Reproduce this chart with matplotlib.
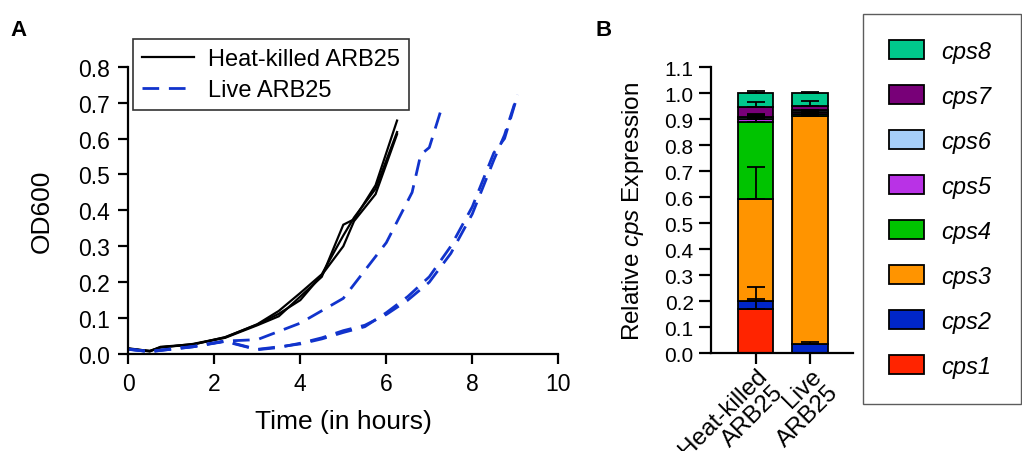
import matplotlib
matplotlib.use("Agg")
import matplotlib.pyplot as plt
import numpy as np
from matplotlib.patches import Patch
from matplotlib.lines import Line2D
from matplotlib.transforms import ScaledTranslation

plt.rcParams['font.family'] = ['Liberation Sans', 'DejaVu Sans']
plt.rcParams['mathtext.fontset'] = 'custom'
plt.rcParams['mathtext.rm'] = 'Liberation Sans'
plt.rcParams['mathtext.it'] = 'Liberation Sans:italic'

# ---------------- Panel A data ----------------
t_hk = [0, 0.5, 0.75, 1.5, 2.25, 3.0, 3.5, 4.0, 4.5, 5.0, 5.25, 5.75, 6.25]
hk1 = [0.016, 0.008, 0.020, 0.027, 0.045, 0.080, 0.105, 0.160, 0.215, 0.360, 0.375, 0.470, 0.650]
hk2 = [0.015, 0.007, 0.019, 0.026, 0.047, 0.082, 0.112, 0.150, 0.220, 0.300, 0.370, 0.445, 0.612]
hk3 = [0.014, 0.009, 0.018, 0.028, 0.046, 0.083, 0.120, 0.170, 0.222, 0.330, 0.380, 0.460, 0.618]

t_live_fast = [0, 0.5, 0.75, 1.5, 2.25, 3.0, 4.0, 5.0, 6.0, 6.6, 6.8, 7.0, 7.3]
live_fast = [0.013, 0.007, 0.010, 0.020, 0.036, 0.040, 0.086, 0.155, 0.310, 0.450, 0.555, 0.575, 0.690]

t_live_slow = [0, 0.5, 0.75, 1.5, 2.25, 3.0, 3.5, 4.0, 4.5, 5.0, 5.5, 6.0, 6.5, 7.0, 7.5, 8.0, 8.5, 8.75, 9.05]
live_slow1 = [0.014, 0.006, 0.010, 0.020, 0.035, 0.012, 0.018, 0.030, 0.045, 0.065, 0.080, 0.110, 0.150, 0.200, 0.280, 0.390, 0.540, 0.610, 0.722]
live_slow2 = [0.013, 0.007, 0.011, 0.021, 0.036, 0.013, 0.020, 0.028, 0.042, 0.060, 0.076, 0.115, 0.160, 0.215, 0.300, 0.410, 0.560, 0.600, 0.720]

# ---------------- Panel B data ----------------
groups = ["Heat-killed\nARB25", "Live\nARB25"]
genes = ["cps1", "cps2", "cps3", "cps4", "cps5", "cps6", "cps7", "cps8"]
colors = ["#ff2400", "#0026c8", "#ff9400", "#00c300", "#b932e6", "#a6cef8", "#780078", "#00c88c"]
vals_hk = [0.170, 0.030, 0.395, 0.295, 0.012, 0.008, 0.037, 0.053]
vals_live = [0.002, 0.035, 0.875, 0.008, 0.008, 0.006, 0.018, 0.048]
err_hk = [0.040, 0.055, 0.122, 0.030, 0.010, 0.005, 0.020, 0.007]
err_live = [0.000, 0.005, 0.008, 0.005, 0.004, 0.003, 0.020, 0.006]

W, H = 1022, 452
fig = plt.figure(figsize=(W/100, H/100), dpi=100)

def fx(px):
    return px / W
def fy(py):
    return 1 - py / H

# ---------------- Panel A ----------------
axA = fig.add_axes([fx(128.3), fy(355), fx(558.3) - fx(128.3), fy(67.7) - fy(355)])
black_kw = dict(color='black', lw=1.6, solid_joinstyle='miter')
blue_kw = dict(color='#1133cc', lw=2.0, dashes=(6, 3.5))
for y in (hk1, hk2, hk3):
    axA.plot(t_hk, y, **black_kw)
axA.plot(t_live_fast, live_fast, **blue_kw)
axA.plot(t_live_slow, live_slow1, **blue_kw)
axA.plot(t_live_slow, live_slow2, **blue_kw)
axA.set_xlim(0, 10)
axA.set_ylim(0, 0.8)
axA.set_xticks(np.arange(0, 11, 2))
axA.set_yticks(np.arange(0, 0.81, 0.1))
axA.set_yticklabels([f"{v:.1f}" for v in np.arange(0, 0.81, 0.1)])
for s in ('top', 'right'):
    axA.spines[s].set_visible(False)
for s in ('left', 'bottom'):
    axA.spines[s].set_linewidth(1.6)
axA.tick_params(axis='both', direction='out', length=7, width=1.6, labelsize=16.5, pad=6)
axA.set_xlabel("Time (in hours)", fontsize=19, labelpad=10)
axA.set_ylabel("OD600", fontsize=19, labelpad=18)
handlesA = [Line2D([], [], **black_kw), Line2D([], [], **blue_kw)]
legA = fig.legend(handlesA, ["Heat-killed ARB25", "Live ARB25"], loc='upper left',
                  bbox_to_anchor=(fx(133.3), fy(40)), bbox_transform=fig.transFigure,
                  fontsize=17, frameon=True, fancybox=False, borderaxespad=0,
                  handlelength=2.2, handletextpad=0.6, borderpad=0.38, labelspacing=0.4)
legA.get_frame().set_edgecolor('black')
legA.get_frame().set_linewidth(1.2)

# ---------------- Panel B ----------------
axB = fig.add_axes([fx(711), fy(354.3), fx(853.3) - fx(711), fy(68.3) - fy(354.3)])
x = np.arange(len(groups))
bw = 0.645
bottoms = np.zeros(len(groups))
tops_list = []
for i, g in enumerate(genes):
    v = np.array([vals_hk[i], vals_live[i]])
    axB.bar(x, v, bw, bottom=bottoms, color=colors[i], edgecolor='black', linewidth=1.3, zorder=2)
    bottoms = bottoms + v
    tops_list.append(bottoms.copy())
for i, g in enumerate(genes):
    e = np.array([err_hk[i], err_live[i]])
    axB.errorbar(x, tops_list[i], yerr=[np.zeros_like(e), e], fmt='none', ecolor='black',
                 elinewidth=1.3, capsize=6.5, capthick=1.3, zorder=3)
axB.set_xlim(-0.823, 1.797)
axB.set_ylim(0, 1.1)
yt = np.round(np.arange(0, 1.101, 0.1), 1)
axB.set_yticks(yt)
axB.set_yticklabels([f"{v:.1f}" for v in yt])
axB.set_xticks(x)
axB.set_xticklabels(groups, rotation=45, ha='right', va='top', rotation_mode='anchor',
                    multialignment='right', fontsize=17.5, linespacing=1.1)
offset = ScaledTranslation(-4/100, 1/100, fig.dpi_scale_trans)
for lab in axB.get_xticklabels():
    lab.set_transform(lab.get_transform() + offset)
for s in ('top', 'right'):
    axB.spines[s].set_visible(False)
for s in ('left', 'bottom'):
    axB.spines[s].set_linewidth(1.6)
axB.tick_params(axis='y', direction='out', length=9, width=1.6, labelsize=15, pad=3.5)
axB.tick_params(axis='x', direction='out', length=8, width=1.6, pad=0)
axB.set_ylabel("Relative $\\mathit{cps}$ Expression", fontsize=17.5, labelpad=13)

handlesB = [Patch(facecolor=colors[i], edgecolor='black', linewidth=1.3) for i in range(len(genes))][::-1]
legB = fig.legend(handlesB, genes[::-1], loc='upper left',
                  bbox_to_anchor=(fx(862.7), 0.0, fx(1021) - fx(862.7), fy(15)),
                  bbox_transform=fig.transFigure, mode='expand',
                  prop=dict(family='Liberation Sans', style='italic', size=17),
                  frameon=True, fancybox=False, borderaxespad=0,
                  handlelength=1.48, handleheight=0.85, handletextpad=0.73,
                  borderpad=1.1, labelspacing=0.93)
legB.get_frame().set_edgecolor('#333333')
legB.get_frame().set_linewidth(1.0)

fig.text(fx(10), fy(30), "A", fontsize=16, fontweight='bold', va='center', ha='left')
fig.text(fx(595), fy(30), "B", fontsize=16, fontweight='bold', va='center', ha='left')

fig.savefig("out.png", dpi=100)
